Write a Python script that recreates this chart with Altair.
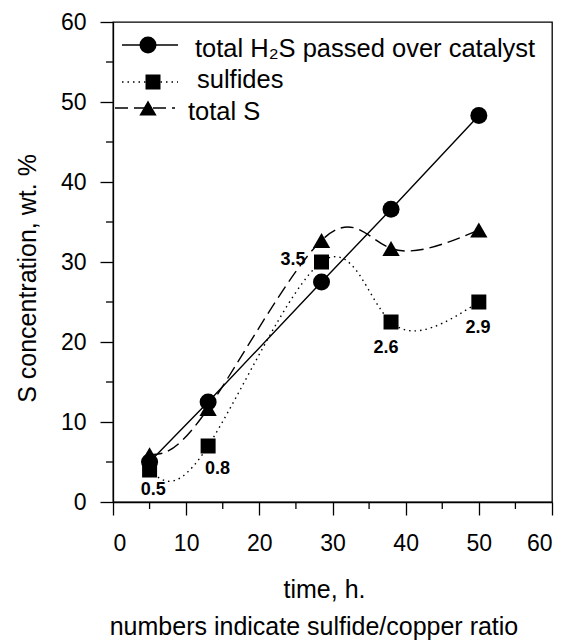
import altair as alt
import pandas as pd

# ---------------- data ----------------
time_h = [5, 13, 28.5, 38, 50]
h2s_total = [5.0, 12.5, 27.5, 36.6, 48.3]
sulfides = [4.0, 7.0, 30.0, 22.5, 25.0]
total_s = [5.9, 11.7, 32.7, 31.7, 34.0]

ratio_labels = ["0.5", "0.8", "3.5", "2.6", "2.9"]
ratio_x = [5.5, 14.3, 24.6, 37.3, 49.9]
ratio_y = [1.5, 4.1, 30.2, 19.2, 21.8]

x_ticks = [0, 10, 20, 30, 40, 50, 60]
x_minor = [5, 15, 25, 35, 45, 55]
y_ticks = [0, 10, 20, 30, 40, 50, 60]
y_minor = [5, 15, 25, 35, 45, 55]

legend_labels = ["total H\u2082S passed over catalyst", "sulfides", "total S"]
x_title = "time, h."
x_note = "numbers indicate sulfide/copper ratio"
y_title = "S concentration, wt. %"

FONT = "Liberation Sans"
W, H = 439, 480

xs = alt.Scale(domain=[0, 60], nice=False, zero=False)
ys = alt.Scale(domain=[0, 60], nice=False, zero=False)

xaxis = alt.Axis(values=x_ticks, title=x_title, grid=False, tickSize=13, tickWidth=1.3,
                 tickColor="black", domainColor="black", domainWidth=1.3,
                 labelFont=FONT, labelFontSize=23, labelColor="black", labelPadding=17,
                 titleFont=FONT, titleFontSize=25, titleFontWeight="normal", titleColor="black",
                 titlePadding=22, titleX=211, format="d")
yaxis = alt.Axis(values=y_ticks, title=y_title, grid=False, tickSize=13, tickWidth=1.3,
                 tickColor="black", domainColor="black", domainWidth=1.3,
                 labelFont=FONT, labelFontSize=23, labelColor="black", labelPadding=14,
                 titleFont=FONT, titleFontSize=25, titleFontWeight="normal", titleColor="black",
                 titlePadding=20, titleY=256, format="d")


def X(f):
    return alt.X(f, type="quantitative", scale=xs, axis=xaxis)


def Y(f):
    return alt.Y(f, type="quantitative", scale=ys, axis=yaxis)


df = pd.DataFrame({"t": time_h, "h2s": h2s_total, "sul": sulfides, "tot": total_s})
ann = pd.DataFrame({"x": ratio_x, "y": ratio_y, "lab": ratio_labels})
one = pd.DataFrame({"k": [0]})  # single row for decorative (legend / note) marks

base = alt.Chart(df)

h2s_line = base.mark_line(color="black", strokeWidth=1.4).encode(x=X("t"), y=Y("h2s"))
h2s_pts = base.mark_point(shape="circle", filled=True, color="black", opacity=1, size=289).encode(x=X("t"), y=Y("h2s"))

sul_line = base.mark_line(color="black", strokeWidth=1.4, interpolate="natural",
                          strokeDash=[1.5, 4]).encode(x=X("t"), y=Y("sul"))
sul_pts = base.mark_point(shape="square", filled=True, color="black", opacity=1, size=225).encode(x=X("t"), y=Y("sul"))

tot_line = base.mark_line(color="black", strokeWidth=1.4, interpolate="natural",
                          strokeDash=[13, 6]).encode(x=X("t"), y=Y("tot"))
tot_pts = base.mark_point(shape="triangle-up", filled=True, color="black", opacity=1, size=300).encode(x=X("t"), y=Y("tot"))

ann_text = alt.Chart(ann).mark_text(font=FONT, fontSize=18, fontWeight="bold", color="black",
                                    align="center", baseline="middle").encode(
    x=X("x"), y=Y("y"), text="lab:N")

xminor = alt.Chart(pd.DataFrame({"v": x_minor})).mark_rule(color="black", strokeWidth=1.3).encode(
    x=X("v"), y=alt.value(H), y2=alt.value(H + 7))
yminor = alt.Chart(pd.DataFrame({"v": y_minor})).mark_rule(color="black", strokeWidth=1.3).encode(
    y=Y("v"), x=alt.value(0), x2=alt.value(-7))

# ---------------- legend (drawn inside the plot) ----------------
leg = []
leg.append(alt.Chart(one).mark_rule(color="black", strokeWidth=1.4).encode(
    x=alt.value(9), x2=alt.value(65), y=alt.value(23)))
leg.append(alt.Chart(one).mark_point(shape="circle", filled=True, color="black", opacity=1, size=289).encode(
    x=alt.value(35), y=alt.value(23)))
leg.append(alt.Chart(one).mark_rule(color="black", strokeWidth=1.4, strokeDash=[1.5, 4]).encode(
    x=alt.value(9), x2=alt.value(65), y=alt.value(60)))
leg.append(alt.Chart(one).mark_point(shape="square", filled=True, color="black", opacity=1, size=225).encode(
    x=alt.value(40), y=alt.value(60)))
leg.append(alt.Chart(one).mark_rule(color="black", strokeWidth=1.4, strokeDash=[13, 6]).encode(
    x=alt.value(2), x2=alt.value(62), y=alt.value(86)))
leg.append(alt.Chart(one).mark_point(shape="triangle-up", filled=True, color="black", opacity=1, size=300).encode(
    x=alt.value(35), y=alt.value(86)))
leg_y = [35, 66, 98]
leg_x = [82, 84, 75]
for lab, lx, ly in zip(legend_labels, leg_x, leg_y):
    leg.append(alt.Chart(one).mark_text(text=lab, font=FONT, fontSize=25.5, fontWeight="normal",
                                        color="black", align="left", baseline="alphabetic").encode(
        x=alt.value(lx), y=alt.value(ly)))

note = alt.Chart(one).mark_text(text=x_note, font=FONT, fontSize=25, fontWeight="normal", color="black",
                                align="center", baseline="alphabetic").encode(
    x=alt.value(201), y=alt.value(613))

chart = alt.layer(
    xminor, yminor,
    h2s_line, sul_line, tot_line,
    h2s_pts, sul_pts, tot_pts,
    ann_text, note, *leg
).properties(
    width=W, height=H,
    autosize=alt.AutoSizeParams(type="none"),
    padding={"left": 113, "top": 22, "right": 15, "bottom": 139},
    background="white",
).configure_view(stroke="black", strokeWidth=1.3)

chart.save("out.html", embed_options={"renderer": "svg", "actions": False})
